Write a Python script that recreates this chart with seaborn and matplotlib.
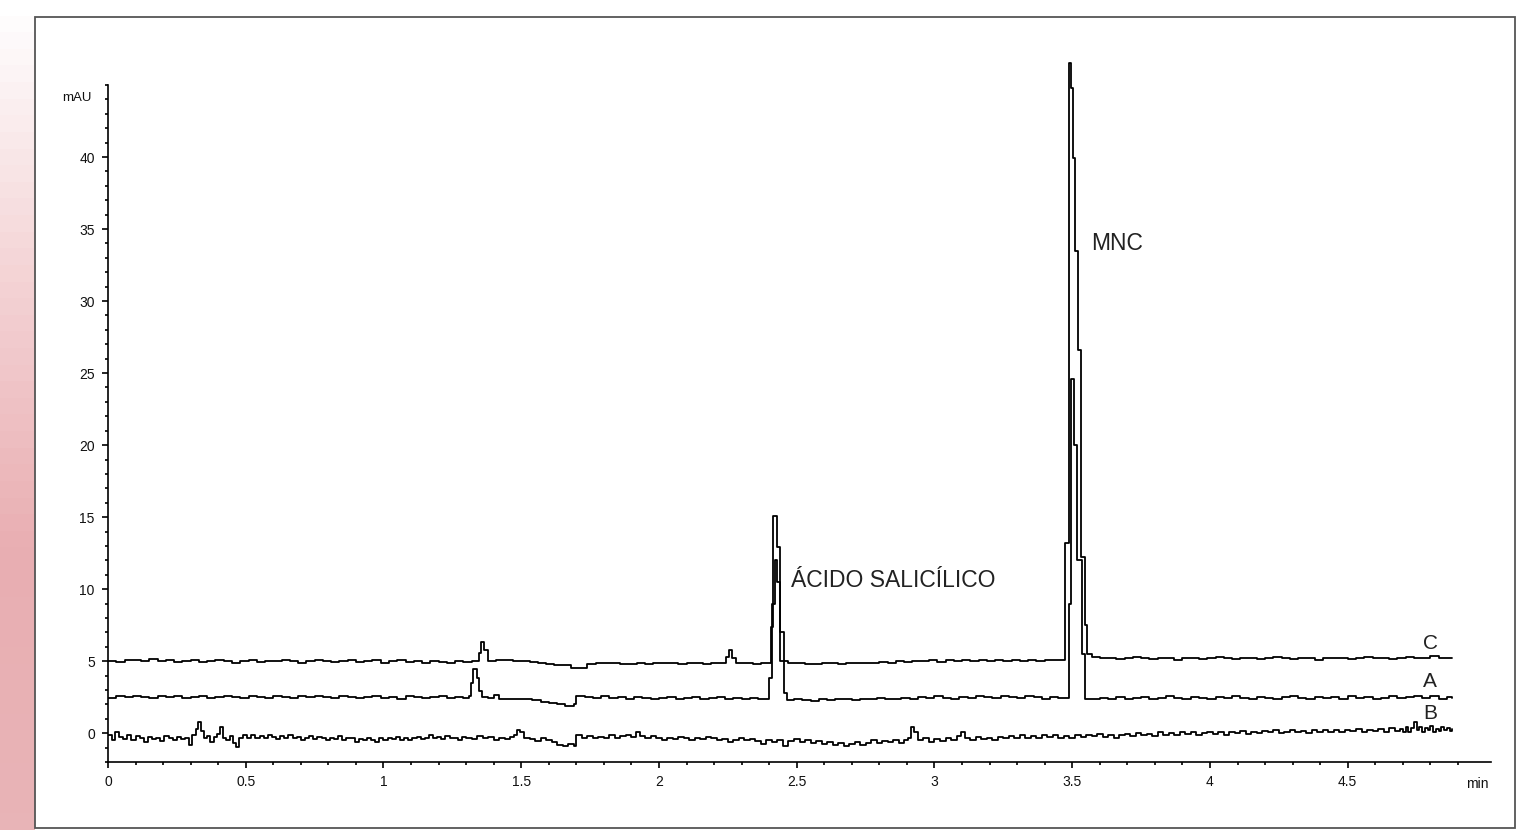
import numpy as np
import pandas as pd
import matplotlib
matplotlib.use("Agg")
import matplotlib.pyplot as plt
import seaborn as sns
from matplotlib.colors import LinearSegmentedColormap
from matplotlib.patches import Rectangle
from matplotlib.ticker import FixedLocator

# trace C (upper): time (min) / signal (mAU)
c_time = [0.00, 0.03, 0.06, 0.09, 0.12, 0.15, 0.18, 0.21, 0.24, 0.27, 0.30, 0.33, 0.36, 0.39,
          0.42, 0.45, 0.48, 0.51, 0.54, 0.57, 0.60, 0.63, 0.66, 0.69, 0.72, 0.75, 0.78, 0.81,
          0.84, 0.87, 0.90, 0.93, 0.96, 0.99, 1.02, 1.05, 1.08, 1.11, 1.14, 1.17, 1.20, 1.23,
          1.26, 1.29, 1.32, 1.345, 1.355, 1.365, 1.38, 1.41, 1.44, 1.47, 1.50, 1.53, 1.56, 1.59,
          1.62, 1.65, 1.68, 1.71, 1.74, 1.77, 1.80, 1.83, 1.86, 1.89, 1.92, 1.95, 1.98, 2.01,
          2.04, 2.07, 2.10, 2.13, 2.16, 2.19, 2.22, 2.245, 2.255, 2.265, 2.28, 2.31, 2.34, 2.37,
          2.405, 2.415, 2.428, 2.440, 2.455, 2.47, 2.50, 2.53, 2.56, 2.59, 2.62, 2.65, 2.68,
          2.71, 2.74, 2.77, 2.80, 2.83, 2.86, 2.89, 2.92, 2.95, 2.98, 3.01, 3.04, 3.07, 3.10,
          3.13, 3.16, 3.19, 3.22, 3.25, 3.28, 3.31, 3.34, 3.37, 3.40, 3.43, 3.46, 3.474, 3.488,
          3.497, 3.503, 3.510, 3.521, 3.532, 3.546, 3.553, 3.57, 3.60, 3.63, 3.66, 3.69, 3.72,
          3.75, 3.78, 3.81, 3.84, 3.87, 3.90, 3.93, 3.96, 3.99, 4.02, 4.05, 4.08, 4.11, 4.14,
          4.17, 4.20, 4.23, 4.26, 4.29, 4.32, 4.35, 4.38, 4.41, 4.44, 4.47, 4.50, 4.53, 4.56,
          4.59, 4.62, 4.65, 4.68, 4.71, 4.74, 4.77, 4.80, 4.83, 4.86, 4.88]
c_mau = [5.0, 4.95, 5.05, 5.1, 5.0, 5.12, 5.0, 5.05, 4.95, 5.0, 5.05, 4.95, 5.0, 5.05,
         5.0, 4.9, 5.0, 5.05, 4.95, 5.0, 5.0, 5.1, 5.0, 4.9, 5.0, 5.05, 5.0, 4.95,
         5.0, 5.05, 4.95, 5.0, 5.05, 4.9, 5.0, 5.05, 4.95, 5.0, 4.9, 5.0, 4.95, 4.9,
         5.0, 4.95, 5.0, 5.6, 6.3, 5.8, 5.0, 5.05, 5.1, 5.0, 5.0, 4.95, 4.85, 4.8,
         4.75, 4.7, 4.5, 4.55, 4.8, 4.85, 4.9, 4.85, 4.8, 4.8, 4.85, 4.8, 4.85, 4.9,
         4.85, 4.8, 4.85, 4.9, 4.8, 4.85, 4.85, 5.3, 5.75, 5.2, 4.85, 4.9, 4.8, 4.85,
         7.4, 15.1, 12.9, 7.0, 5.0, 4.9, 4.85, 4.8, 4.8, 4.9, 4.85, 4.8, 4.85,
         4.9, 4.85, 4.9, 4.95, 4.9, 5.0, 4.95, 5.0, 5.0, 5.05, 4.95, 5.05, 5.0, 5.1,
         5.0, 5.05, 5.0, 5.1, 5.0, 5.05, 5.0, 5.05, 5.0, 5.1, 5.05, 5.1, 13.2, 46.5,
         44.8, 39.9, 33.5, 26.6, 12.2, 7.5, 5.5, 5.3, 5.2, 5.25, 5.15, 5.2, 5.3,
         5.2, 5.15, 5.25, 5.2, 5.1, 5.2, 5.25, 5.15, 5.2, 5.3, 5.2, 5.15, 5.25, 5.2,
         5.15, 5.2, 5.3, 5.2, 5.15, 5.25, 5.2, 5.1, 5.2, 5.25, 5.2, 5.15, 5.2, 5.3,
         5.2, 5.25, 5.15, 5.2, 5.3, 5.2, 5.25, 5.35, 5.2, 5.25, 5.2]

# trace A (middle)
a_time = [0.00, 0.03, 0.06, 0.09, 0.12, 0.15, 0.18, 0.21, 0.24, 0.27, 0.30, 0.33, 0.36, 0.39,
          0.42, 0.45, 0.48, 0.51, 0.54, 0.57, 0.60, 0.63, 0.66, 0.69, 0.72, 0.75, 0.78, 0.81,
          0.84, 0.87, 0.90, 0.93, 0.96, 0.99, 1.02, 1.05, 1.08, 1.11, 1.14, 1.17, 1.20, 1.23,
          1.26, 1.29, 1.31, 1.318, 1.326, 1.338, 1.346, 1.356, 1.38, 1.40, 1.42, 1.45, 1.48,
          1.51, 1.54, 1.57, 1.60, 1.63, 1.66, 1.69, 1.70, 1.73, 1.76, 1.79, 1.82, 1.85, 1.88,
          1.91, 1.94, 1.97, 2.00, 2.03, 2.06, 2.09, 2.12, 2.15, 2.18, 2.21, 2.24, 2.27, 2.30,
          2.33, 2.36, 2.38, 2.400, 2.410, 2.420, 2.430, 2.440, 2.452, 2.465, 2.49, 2.52, 2.55,
          2.58, 2.61, 2.64, 2.67, 2.70, 2.73, 2.76, 2.79, 2.82, 2.85, 2.88, 2.91, 2.94, 2.97,
          3.00, 3.03, 3.06, 3.09, 3.12, 3.15, 3.18, 3.21, 3.24, 3.27, 3.30, 3.33, 3.36, 3.39,
          3.42, 3.45, 3.488, 3.497, 3.506, 3.517, 3.535, 3.546, 3.57, 3.60, 3.63, 3.66, 3.69,
          3.72, 3.75, 3.78, 3.81, 3.84, 3.87, 3.90, 3.93, 3.96, 3.99, 4.02, 4.05, 4.08, 4.11,
          4.14, 4.17, 4.20, 4.23, 4.26, 4.29, 4.32, 4.35, 4.38, 4.41, 4.44, 4.47, 4.50, 4.53,
          4.56, 4.59, 4.62, 4.65, 4.68, 4.71, 4.74, 4.77, 4.80, 4.83, 4.86, 4.88]
a_mau = [2.45, 2.55, 2.5, 2.6, 2.5, 2.45, 2.55, 2.5, 2.6, 2.45, 2.5, 2.55, 2.45, 2.5,
         2.6, 2.5, 2.45, 2.55, 2.5, 2.45, 2.55, 2.5, 2.45, 2.55, 2.5, 2.6, 2.5, 2.45,
         2.55, 2.5, 2.45, 2.5, 2.55, 2.45, 2.5, 2.4, 2.55, 2.5, 2.45, 2.5, 2.55, 2.45,
         2.5, 2.45, 2.6, 3.5, 4.45, 3.8, 2.9, 2.5, 2.45, 2.65, 2.4, 2.35, 2.4,
         2.35, 2.3, 2.15, 2.1, 2.05, 1.9, 2.0, 2.55, 2.5, 2.45, 2.55, 2.45, 2.5, 2.4,
         2.5, 2.45, 2.35, 2.45, 2.5, 2.4, 2.45, 2.5, 2.4, 2.45, 2.5, 2.4, 2.45, 2.4,
         2.45, 2.35, 2.4, 3.8, 9.0, 12.0, 10.5, 5.0, 2.8, 2.3, 2.35, 2.3, 2.25,
         2.35, 2.3, 2.4, 2.35, 2.3, 2.4, 2.35, 2.45, 2.4, 2.35, 2.45, 2.4, 2.5, 2.45,
         2.55, 2.45, 2.4, 2.5, 2.45, 2.55, 2.5, 2.45, 2.55, 2.5, 2.45, 2.55, 2.5, 2.4,
         2.5, 2.45, 9.0, 24.6, 20.0, 12.0, 5.5, 2.4, 2.35, 2.45, 2.4, 2.5, 2.4,
         2.45, 2.5, 2.4, 2.45, 2.55, 2.45, 2.4, 2.5, 2.45, 2.4, 2.5, 2.45, 2.55, 2.45,
         2.4, 2.5, 2.45, 2.4, 2.5, 2.55, 2.45, 2.4, 2.5, 2.45, 2.5, 2.4, 2.55, 2.45,
         2.5, 2.4, 2.45, 2.55, 2.45, 2.5, 2.6, 2.45, 2.55, 2.4, 2.5, 2.45]

# trace B (lower, noisy)
b_time = [0.000, 0.015, 0.025, 0.040, 0.055, 0.070, 0.085, 0.100, 0.115, 0.130, 0.145, 0.160,
          0.175, 0.190, 0.205, 0.220, 0.235, 0.250, 0.265, 0.280, 0.295, 0.305, 0.318, 0.326,
          0.336, 0.348, 0.360, 0.372, 0.384, 0.396, 0.408, 0.418, 0.430, 0.442, 0.455, 0.465,
          0.475, 0.490, 0.505, 0.520, 0.535, 0.550, 0.565, 0.580, 0.595, 0.610, 0.625, 0.640,
          0.655, 0.670, 0.685, 0.700, 0.715, 0.730, 0.745, 0.760, 0.775, 0.790, 0.805, 0.820,
          0.835, 0.850, 0.865, 0.880, 0.895, 0.910, 0.925, 0.940, 0.955, 0.970, 0.985, 1.000,
          1.015, 1.030, 1.045, 1.060, 1.075, 1.090, 1.105, 1.120, 1.135, 1.150, 1.165, 1.180,
          1.195, 1.210, 1.225, 1.240, 1.255, 1.270, 1.285, 1.300, 1.320, 1.340, 1.360, 1.380,
          1.400, 1.420, 1.440, 1.460, 1.475, 1.485, 1.495, 1.510, 1.530, 1.550, 1.570, 1.590,
          1.610, 1.630, 1.650, 1.670, 1.690, 1.700, 1.720, 1.740, 1.760, 1.780, 1.800, 1.820,
          1.840, 1.860, 1.880, 1.900, 1.915, 1.930, 1.950, 1.970, 1.990, 2.010, 2.030, 2.050,
          2.070, 2.090, 2.110, 2.130, 2.150, 2.170, 2.190, 2.210, 2.230, 2.250, 2.270, 2.290,
          2.310, 2.330, 2.350, 2.370, 2.390, 2.410, 2.430, 2.450, 2.470, 2.490, 2.510, 2.530,
          2.550, 2.570, 2.590, 2.610, 2.630, 2.650, 2.670, 2.690, 2.710, 2.730, 2.750, 2.770,
          2.790, 2.810, 2.830, 2.850, 2.870, 2.890, 2.905, 2.915, 2.925, 2.940, 2.960, 2.980,
          3.000, 3.020, 3.040, 3.060, 3.080, 3.095, 3.110, 3.130, 3.150, 3.170, 3.190, 3.210,
          3.230, 3.250, 3.270, 3.290, 3.310, 3.330, 3.350, 3.370, 3.390, 3.410, 3.430, 3.450,
          3.470, 3.490, 3.510, 3.530, 3.550, 3.570, 3.590, 3.610, 3.630, 3.650, 3.670, 3.690,
          3.710, 3.730, 3.750, 3.770, 3.790, 3.810, 3.830, 3.850, 3.870, 3.890, 3.910, 3.930,
          3.950, 3.970, 3.990, 4.010, 4.030, 4.050, 4.070, 4.090, 4.110, 4.130, 4.150, 4.170,
          4.190, 4.210, 4.230, 4.250, 4.270, 4.290, 4.310, 4.330, 4.350, 4.370, 4.390, 4.410,
          4.430, 4.450, 4.470, 4.490, 4.510, 4.530, 4.550, 4.570, 4.590, 4.610, 4.630, 4.650,
          4.670, 4.690, 4.700, 4.710, 4.720, 4.730, 4.740, 4.750, 4.760, 4.770, 4.780, 4.790,
          4.800, 4.810, 4.820, 4.830, 4.840, 4.850, 4.860, 4.870, 4.880]
b_mau = [-0.1, -0.45, 0.05, -0.25, -0.4, -0.15, -0.5, -0.2, -0.35, -0.6, -0.25, -0.4,
         -0.3, -0.55, -0.2, -0.35, -0.45, -0.25, -0.4, -0.3, -0.85, -0.1, 0.3, 0.75,
         0.15, -0.35, -0.2, -0.6, -0.25, -0.05, 0.4, -0.3, -0.5, -0.2, -0.7, -0.95,
         -0.3, -0.1, -0.3, -0.15, -0.35, -0.2, -0.3, -0.1, -0.25, -0.4, -0.2, -0.3,
         -0.15, -0.35, -0.25, -0.45, -0.3, -0.2, -0.4, -0.25, -0.35, -0.5, -0.3, -0.4,
         -0.2, -0.45, -0.3, -0.35, -0.6, -0.4, -0.5, -0.3, -0.45, -0.6, -0.35, -0.5,
         -0.3, -0.4, -0.25, -0.45, -0.3, -0.5, -0.35, -0.25, -0.4, -0.3, -0.15, -0.35,
         -0.25, -0.4, -0.2, -0.35, -0.3, -0.45, -0.25, -0.3, -0.4, -0.2, -0.35, -0.25,
         -0.45, -0.3, -0.4, -0.25, -0.15, 0.2, 0.05, -0.3, -0.4, -0.55, -0.3, -0.45,
         -0.6, -0.8, -0.9, -0.75, -0.9, -0.15, -0.3, -0.2, -0.35, -0.25, -0.3, -0.15,
         -0.3, -0.2, -0.1, -0.25, 0.1, -0.2, -0.35, -0.2, -0.3, -0.45, -0.3, -0.4,
         -0.25, -0.35, -0.5, -0.3, -0.4, -0.25, -0.35, -0.45, -0.4, -0.6, -0.45, -0.35,
         -0.5, -0.4, -0.55, -0.75, -0.5, -0.6, -0.45, -0.9, -0.55, -0.4, -0.6, -0.45,
         -0.7, -0.55, -0.75, -0.6, -0.8, -0.65, -0.9, -0.75, -0.6, -0.8, -0.65, -0.5,
         -0.7, -0.55, -0.6, -0.45, -0.7, -0.5, -0.3, 0.4, 0.1, -0.5, -0.35, -0.6,
         -0.4, -0.55, -0.3, -0.45, -0.2, 0.1, -0.35, -0.45, -0.25, -0.4, -0.3, -0.45,
         -0.25, -0.35, -0.2, -0.3, -0.15, -0.3, -0.2, -0.35, -0.15, -0.25, -0.1, -0.3,
         -0.2, -0.35, -0.15, -0.25, -0.1, -0.2, -0.05, -0.25, -0.1, -0.3, -0.15, -0.05,
         -0.2, 0.0, -0.15, -0.05, -0.2, 0.05, -0.1, 0.0, -0.15, 0.05, -0.05, 0.1,
         -0.1, 0.0, 0.1, -0.05, 0.05, -0.1, 0.1, 0.0, 0.15, -0.05, 0.1, 0.0,
         0.15, 0.05, 0.2, 0.0, 0.1, 0.2, 0.05, 0.15, 0.0, 0.2, 0.1, 0.25,
         0.05, 0.2, 0.1, 0.25, 0.15, 0.3, 0.1, 0.25, 0.15, 0.3, 0.1, 0.35,
         0.15, 0.3, 0.05, 0.4, 0.1, 0.35, 0.75, 0.2, 0.45, 0.05, 0.35, 0.2,
         0.5, 0.1, 0.3, 0.15, 0.45, 0.2, 0.35, 0.15, 0.3]

x_ticks = [0, 0.5, 1, 1.5, 2, 2.5, 3, 3.5, 4, 4.5]
x_labels = ["0", "0.5", "1", "1.5", "2", "2.5", "3", "3.5", "4", "4.5"]
y_ticks = [0, 5, 10, 15, 20, 25, 30, 35, 40]

traces = {"C": (c_time, c_mau), "A": (a_time, a_mau), "B": (b_time, b_mau)}

sns.set_theme(style="white")
plt.rcParams["font.family"] = ["Liberation Sans", "DejaVu Sans"]

fig = plt.figure(figsize=(15.18, 8.30), dpi=100)
fig.patch.set_facecolor("white")

# pinkish blurred strip on the left edge of the scan (white at the top)
edge = fig.add_axes([0, 0, 35 / 1518, 1], zorder=-5)
edge_cmap = LinearSegmentedColormap.from_list("edge", ["#ffffff", "#f4d3d5", "#e9aeb2", "#e8b4b7"])
edge.imshow(np.linspace(0, 1, 50).reshape(-1, 1), aspect="auto", cmap=edge_cmap,
            extent=[0, 1, 0, 1], origin="upper")
edge.axis("off")

# white panel with grey frame
fig.add_artist(Rectangle((35 / 1518, 2 / 830), 1480 / 1518, 811 / 830, transform=fig.transFigure,
                         facecolor="white", edgecolor="#555555", lw=1.3, zorder=-1))

ax = fig.add_axes([108 / 1518, 68 / 830, 1383 / 1518, 705.8 / 830])
ax.patch.set_alpha(0)

for name, (t, v) in traces.items():
    df = pd.DataFrame({"min": t, "mAU": v})
    sns.lineplot(data=df, x="min", y="mAU", ax=ax, color="black", lw=1.3,
                 drawstyle="steps-post", estimator=None, sort=False, legend=False)

ax.set_xlim(0, 5.02)
ax.set_ylim(-2, 47)
ax.set_xlabel("")
ax.set_ylabel("")
for s in ["top", "right"]:
    ax.spines[s].set_visible(False)
ax.spines["left"].set_bounds(-2, 45)
ax.spines["bottom"].set_bounds(0, 5.02)
for s in ["left", "bottom"]:
    ax.spines[s].set_color("black")
    ax.spines[s].set_linewidth(1.2)

ax.set_xticks(x_ticks)
ax.set_xticklabels(x_labels)
ax.set_yticks(y_ticks)
ax.xaxis.set_minor_locator(FixedLocator(np.arange(0, 4.95, 0.1)))
ax.yaxis.set_minor_locator(FixedLocator(np.arange(-2, 45.5, 1)))
ax.tick_params(which="both", direction="out", bottom=True, left=True, color="black", width=1.2)
ax.tick_params(which="major", length=4.5, labelsize=10, pad=5, labelcolor="#111111")
ax.tick_params(which="minor", length=2.2)

ax.text(4.97, -3.5, "min", ha="center", va="center", fontsize=10, color="#111111")
ax.text(-0.058, 44.1, "mAU", ha="right", va="center", fontsize=9.5, color="#111111")

ax.text(2.48, 10.6, "ÁCIDO SALICÍLICO", ha="left", va="center", fontsize=16.5, color="#222222")
ax.text(3.57, 34.0, "MNC", ha="left", va="center", fontsize=16.5, color="#222222")
ax.text(4.80, 5.6, "C", ha="center", va="bottom", fontsize=15, color="#222222")
ax.text(4.80, 2.9, "A", ha="center", va="bottom", fontsize=15, color="#222222")
ax.text(4.80, 0.7, "B", ha="center", va="bottom", fontsize=15, color="#222222")

fig.savefig("out.png", dpi=100)
